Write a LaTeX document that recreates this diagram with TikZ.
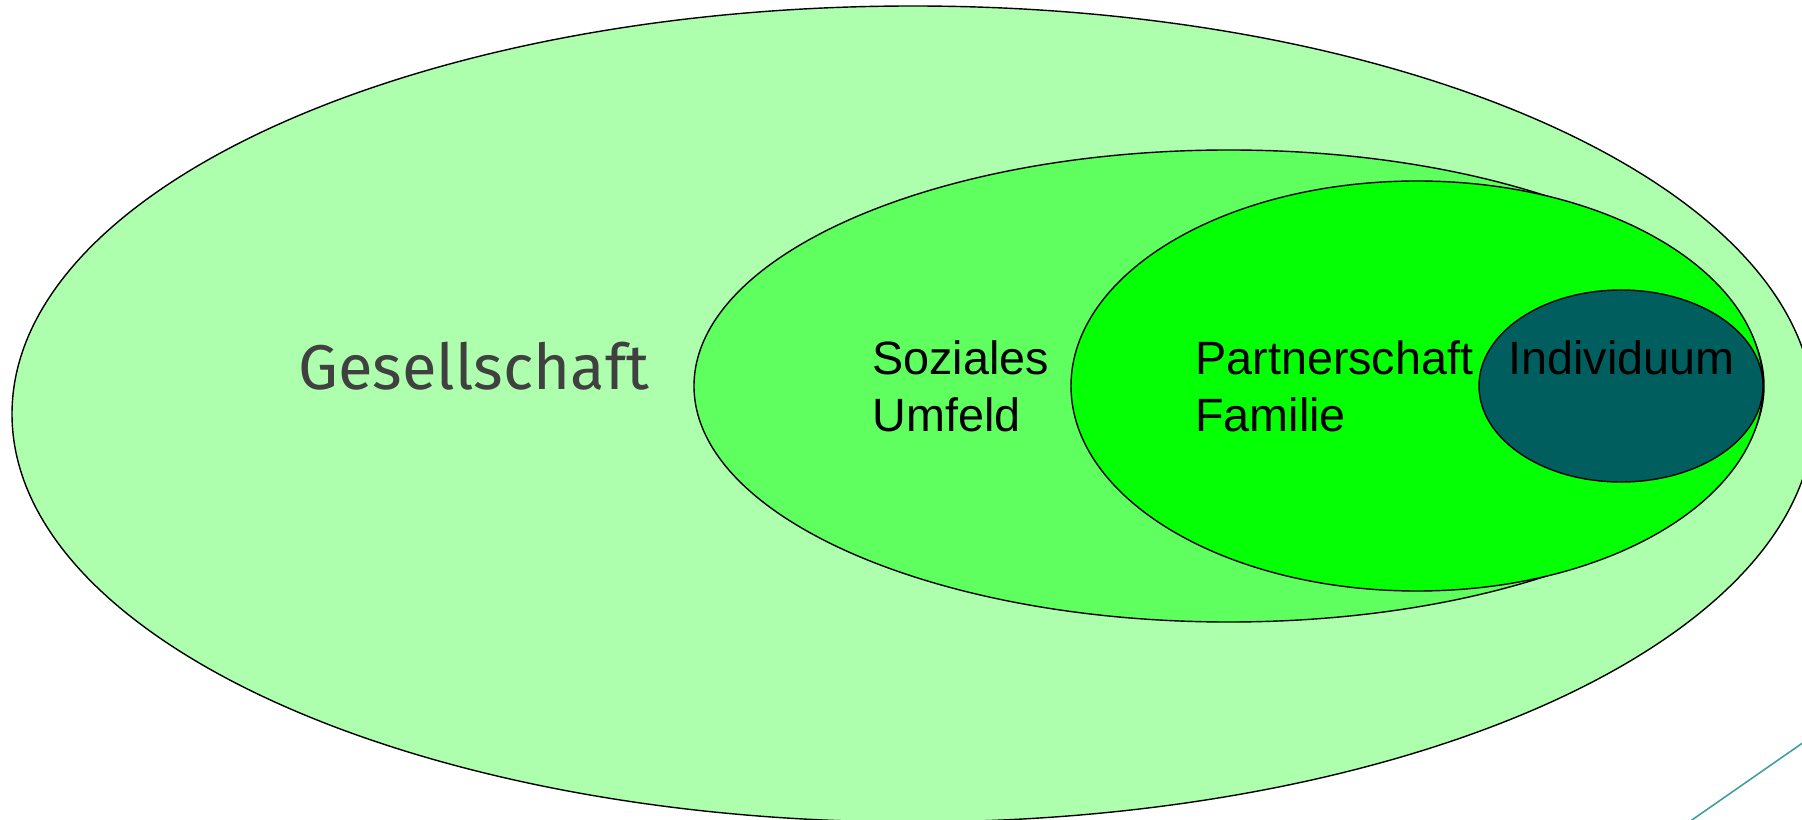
\documentclass[tikz,border=0pt]{standalone}
\usepackage{fontspec}
\setmainfont{Liberation Sans}
\newfontfamily\gesfont{Fira Sans}
\definecolor{cOuter}{RGB}{173,255,173}
\definecolor{cSoz}{RGB}{94,255,94}
\definecolor{cPart}{RGB}{5,255,5}
\definecolor{cInd}{RGB}{0,94,94}
\definecolor{cGes}{RGB}{64,64,64}
\definecolor{cTeal}{RGB}{64,160,160}
\tikzset{
  ring/.style={draw=black,line width=0.8pt},
  lbl/.style={anchor=base west,inner sep=0pt,font=\fontsize{26.6}{31.8}\selectfont,text=black},
  geslbl/.style={anchor=base west,inner sep=0pt,font=\gesfont\fontsize{36}{43}\selectfont,text=cGes}
}
\begin{document}
\begin{tikzpicture}[x=0.02cm,y=-0.02cm]
\useasboundingbox (0,0) rectangle (1802,820);
\clip (0,0) rectangle (1802,820);
\fill[white] (0,0) rectangle (1802,820);
% ellipses
\draw[ring,fill=cOuter] (913,414) ellipse [x radius=901,y radius=408];
\draw[ring,fill=cSoz] (1229,386) ellipse [x radius=535,y radius=236];
\draw[ring,fill=cPart] (1417,386) ellipse [x radius=346,y radius=205];
\draw[ring,fill=cInd] (1621,386) ellipse [x radius=142,y radius=96];
% labels
\node[geslbl] (ges) at (298,390) {Gesellschaft};
\node[lbl] (soz1) at (872,375) {Soziales};
\node[lbl] (soz2) at (872,432) {Umfeld};
\node[lbl] (par1) at (1195,375) {Partnerschaft};
\node[lbl] (par2) at (1195,432) {Familie};
\node[lbl] (ind) at (1508,375) {Individuum};
% teal line
\coordinate (t1) at (1689,822);
\coordinate (t2) at (1804,742);
\draw[cTeal,line width=0.9pt] (t1) -- (t2);
\end{tikzpicture}
\end{document}
